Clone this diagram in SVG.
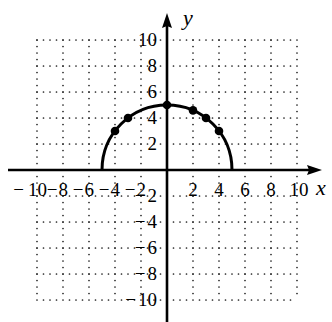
<svg xmlns="http://www.w3.org/2000/svg" width="332" height="322" viewBox="0 0 332 322">
<style>
.grid line{stroke:#222;stroke-width:1.7;stroke-linecap:round;stroke-dasharray:0 6.5}
.ax{stroke:#000;stroke-width:2.6;fill:none}
.t{font-family:"Liberation Serif","Times New Roman",serif;font-size:19px;fill:#000}
.c{text-anchor:middle}
.e{text-anchor:end}
.v{font-family:"Liberation Serif","Times New Roman",serif;font-size:22px;font-style:italic;fill:#000}
</style>
<rect width="332" height="322" fill="#fff"/>
<g id="grid" class="grid">
<line x1="37" y1="40" x2="297" y2="40"/>
<line x1="37" y1="66" x2="297" y2="66"/>
<line x1="37" y1="92" x2="297" y2="92"/>
<line x1="37" y1="118" x2="297" y2="118"/>
<line x1="37" y1="144" x2="297" y2="144"/>
<line x1="37" y1="196" x2="297" y2="196"/>
<line x1="37" y1="222" x2="297" y2="222"/>
<line x1="37" y1="248" x2="297" y2="248"/>
<line x1="37" y1="274" x2="297" y2="274"/>
<line x1="37" y1="300" x2="297" y2="300"/>
<line x1="37" y1="40" x2="37" y2="300"/>
<line x1="63" y1="40" x2="63" y2="300"/>
<line x1="89" y1="40" x2="89" y2="300"/>
<line x1="115" y1="40" x2="115" y2="300"/>
<line x1="141" y1="40" x2="141" y2="300"/>
<line x1="193" y1="40" x2="193" y2="300"/>
<line x1="219" y1="40" x2="219" y2="300"/>
<line x1="245" y1="40" x2="245" y2="300"/>
<line x1="271" y1="40" x2="271" y2="300"/>
<line x1="297" y1="40" x2="297" y2="300"/>
</g>
<g id="labels">
<text class="t e" x="47" y="196">−<tspan dx="4">10</tspan></text>
<text class="t e" x="68" y="196">−<tspan dx="1">8</tspan></text>
<text class="t e" x="94" y="196">−<tspan dx="1">6</tspan></text>
<text class="t e" x="120" y="196">−<tspan dx="1">4</tspan></text>
<text class="t e" x="146" y="196">−<tspan dx="1">2</tspan></text>
<text class="t c" x="193" y="196">2</text>
<text class="t c" x="219" y="196">4</text>
<text class="t c" x="245" y="196">6</text>
<text class="t c" x="271" y="196">8</text>
<text class="t c" x="299" y="196">10</text>
<text class="t e" x="157" y="46">10</text>
<text class="t e" x="157" y="72">8</text>
<text class="t e" x="157" y="98">6</text>
<text class="t e" x="157" y="124">4</text>
<text class="t e" x="157" y="150">2</text>
<text class="t e" x="157" y="202">−<tspan dx="2">2</tspan></text>
<text class="t e" x="157" y="228">−<tspan dx="2">4</tspan></text>
<text class="t e" x="157" y="254">−<tspan dx="2">6</tspan></text>
<text class="t e" x="157" y="280">−<tspan dx="2">8</tspan></text>
<text class="t e" x="157" y="306">−<tspan dx="2">10</tspan></text>
<text class="v" x="316" y="195">x</text>
<text class="v" x="183" y="25">y</text>
</g>
<g id="axes">
<line class="ax" x1="8" y1="170" x2="312" y2="170"/>
<polygon points="322,170 307,165 309,170 307,175" fill="#000"/>
<line class="ax" x1="167" y1="322" x2="167" y2="23"/>
<polygon points="167,13 162,28 167,26 172,28" fill="#000"/>
</g>
<g id="curve">
<path d="M102,170 A65,65 0 0 1 232,170" fill="none" stroke="#000" stroke-width="3"/>
</g>
<g id="points" fill="#000">
<circle cx="167" cy="105" r="4.3"/>
<circle cx="193" cy="110.4" r="4.3"/>
<circle cx="206" cy="118" r="4.3"/>
<circle cx="219" cy="131" r="4.3"/>
<circle cx="128" cy="118" r="4.3"/>
<circle cx="115" cy="131" r="4.3"/>
</g>
</svg>
